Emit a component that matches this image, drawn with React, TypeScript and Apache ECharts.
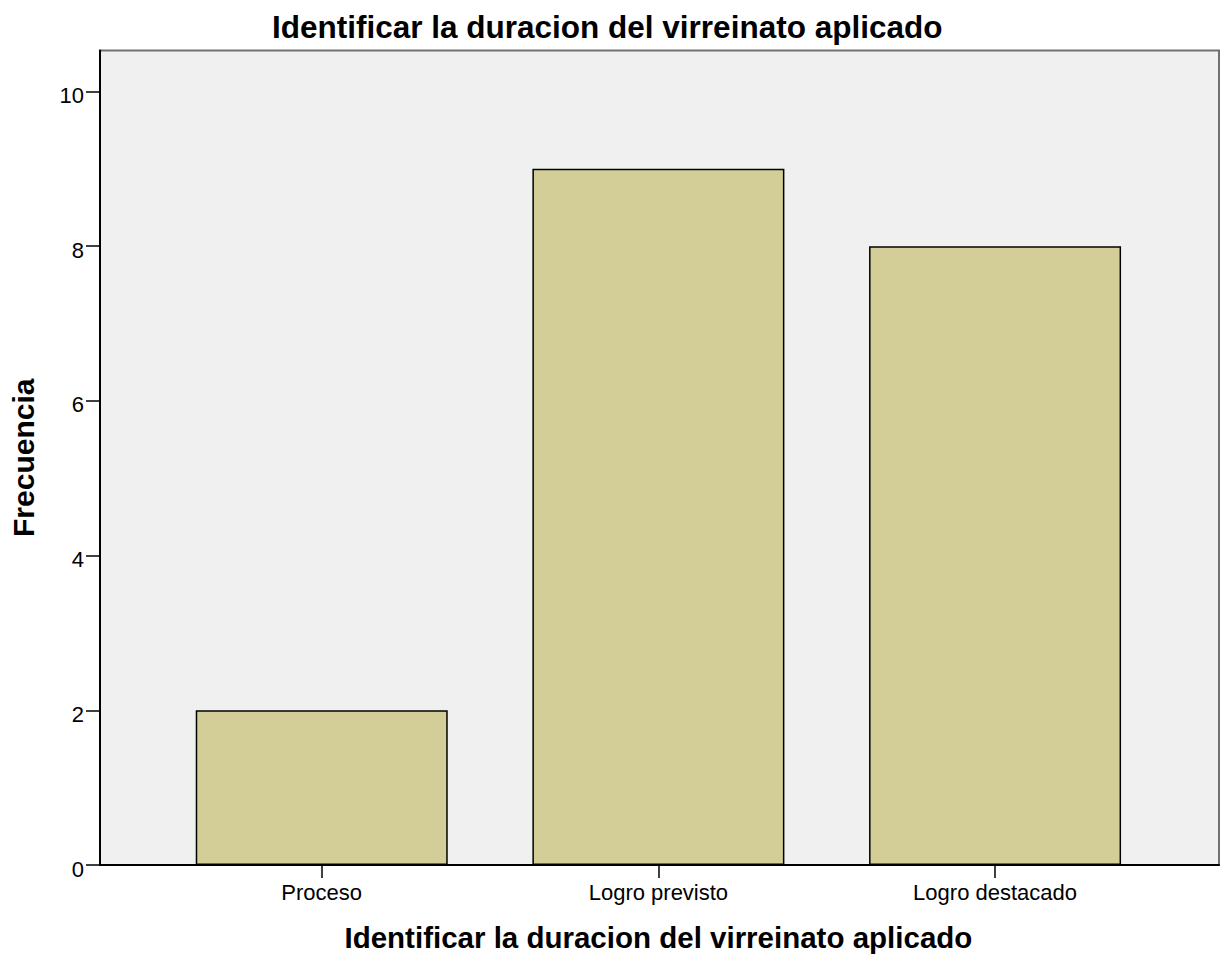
import React, { useEffect, useRef } from "react";
import * as echarts from "echarts";

const categories = ["Proceso", "Logro previsto", "Logro destacado"];
const frequencies = [2, 9, 8];
const yTickValues = [0, 2, 4, 6, 8, 10];
const yMax = 10.53;
const titleText = "Identificar la duracion del virreinato aplicado";
const xAxisName = "Identificar la duracion del virreinato aplicado";
const yAxisName = "Frecuencia";

export default function App() {
  const ref = useRef<HTMLDivElement>(null);
  useEffect(() => {
    if (!ref.current) return;
    const chart = echarts.init(ref.current, undefined, { renderer: "svg" });
    const sans = "'Liberation Sans', Arial, sans-serif";
    chart.setOption({
      animation: false,
      backgroundColor: "#ffffff",
      title: {
        text: titleText,
        left: 267,
        top: 6,
        textStyle: { fontFamily: sans, fontWeight: "bold", fontSize: 31.5, color: "#000" },
      },
      grid: [
        {
          left: 97,
          right: 4,
          top: 50.5,
          bottom: 97,
          show: true,
          backgroundColor: "#f0f0f0",
          borderColor: "#707070",
          borderWidth: 2,
        },
        {
          left: 153.4,
          right: 59.6,
          top: 50.5,
          bottom: 97,
        },
      ],
      xAxis: [
        {
          gridIndex: 0,
          type: "value",
          min: 0,
          max: 1,
          axisLine: { show: true, onZero: false, lineStyle: { color: "#000", width: 2 } },
          axisTick: { show: false },
          axisLabel: { show: false },
          splitLine: { show: false },
        },
        {
          gridIndex: 1,
          type: "category",
          data: categories,
          boundaryGap: true,
          name: xAxisName,
          nameLocation: "middle",
          nameGap: 57,
          nameTextStyle: { fontFamily: sans, fontWeight: "bold", fontSize: 29.5, color: "#000" },
          axisLine: { show: false },
          axisTick: { show: true, alignWithLabel: true, length: 13, lineStyle: { color: "#000", width: 1.5 } },
          axisLabel: { fontFamily: sans, fontSize: 22, color: "#000", margin: 16 },
          splitLine: { show: false },
        },
      ],
      yAxis: [
        {
          gridIndex: 0,
          type: "value",
          min: 0,
          max: yMax,
          name: yAxisName,
          nameLocation: "middle",
          nameGap: 62,
          nameTextStyle: { fontFamily: sans, fontWeight: "bold", fontSize: 30, color: "#000" },
          axisLine: { show: true, lineStyle: { color: "#000", width: 2 } },
          axisTick: { show: true, length: 14, customValues: yTickValues, lineStyle: { color: "#000", width: 1.5 } },
          axisLabel: {
            fontFamily: sans,
            fontSize: 22,
            color: "#000",
            margin: 16,
            customValues: yTickValues,
            verticalAlign: "top",
            lineHeight: 8,
          },
          splitLine: { show: false },
        },
        {
          gridIndex: 1,
          type: "value",
          min: 0,
          max: yMax,
          show: false,
          splitLine: { show: false },
        },
      ],
      series: [
        {
          type: "bar",
          xAxisIndex: 1,
          yAxisIndex: 1,
          data: frequencies,
          barWidth: 252,
          itemStyle: { color: "#d3ce97", borderColor: "#000", borderWidth: 1.5 },
        },
      ],
    });
    return () => chart.dispose();
  }, []);
  return (
    <div
      ref={ref}
      style={{ position: "fixed", left: 0, top: 0, width: "1223px", height: "962px", background: "#fff" }}
    />
  );
}
